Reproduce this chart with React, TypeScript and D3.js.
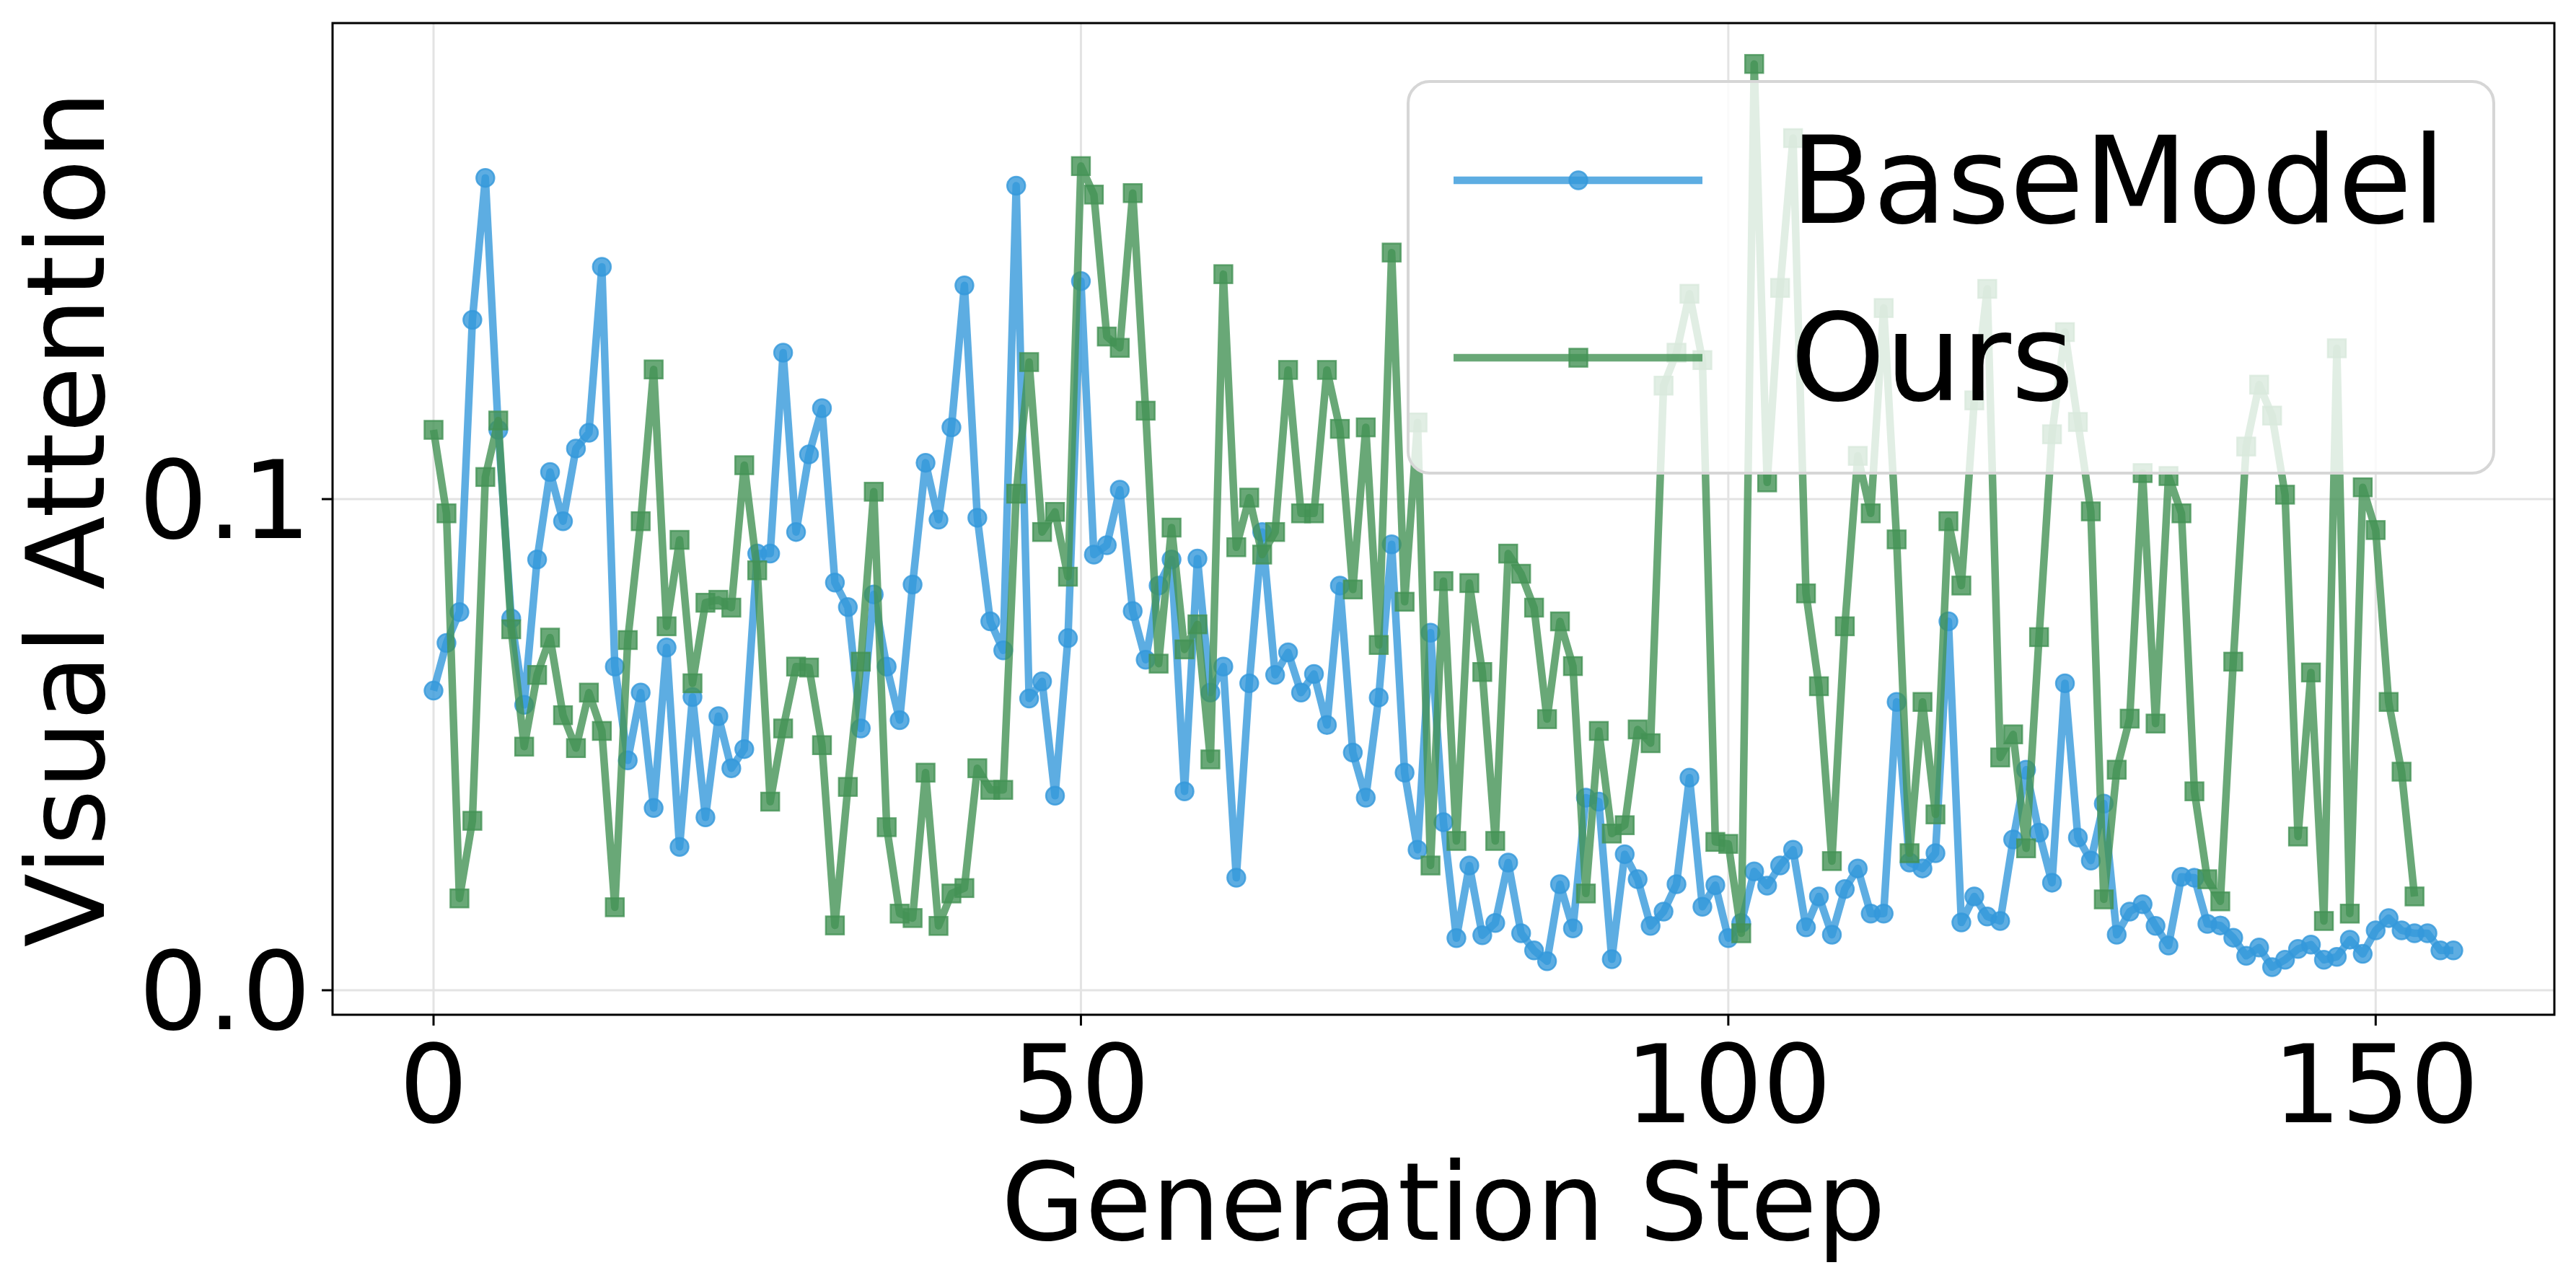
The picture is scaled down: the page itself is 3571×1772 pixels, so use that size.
import React from 'react';
import * as d3 from 'd3';

// Visual attention per generation step
const baseModel = [
  0.0610, 0.0707, 0.0770, 0.1365, 0.1654, 0.1141, 0.0757, 0.0581, 0.0877, 0.1055,
  0.0955, 0.1103, 0.1135, 0.1473, 0.0659, 0.0468, 0.0606, 0.0371, 0.0698, 0.0292,
  0.0597, 0.0352, 0.0558, 0.0452, 0.0491, 0.0889, 0.0889, 0.1298, 0.0933, 0.1091,
  0.1185, 0.0830, 0.0780, 0.0533, 0.0806, 0.0659, 0.0550, 0.0826, 0.1074, 0.0958,
  0.1146, 0.1435, 0.0962, 0.0751, 0.0692, 0.1638, 0.0594, 0.0629, 0.0396, 0.0717,
  0.1444, 0.0887, 0.0906, 0.1019, 0.0772, 0.0673, 0.0824, 0.0877, 0.0405, 0.0879,
  0.0606, 0.0659, 0.0229, 0.0625, 0.0933, 0.0642, 0.0688, 0.0606, 0.0644, 0.0540,
  0.0824, 0.0484, 0.0392, 0.0596, 0.0908, 0.0443, 0.0286, 0.0728, 0.0342, 0.0106,
  0.0254, 0.0112, 0.0137, 0.0260, 0.0116, 0.0081, 0.0059, 0.0216, 0.0126, 0.0392,
  0.0384, 0.0063, 0.0277, 0.0226, 0.0131, 0.0160, 0.0216, 0.0433, 0.0170, 0.0214,
  0.0106, 0.0137, 0.0242, 0.0213, 0.0254, 0.0286, 0.0128, 0.0191, 0.0113, 0.0206,
  0.0248, 0.0156, 0.0156, 0.0587, 0.0260, 0.0248, 0.0279, 0.0751, 0.0138, 0.0191,
  0.0150, 0.0141, 0.0307, 0.0449, 0.0321, 0.0219, 0.0625, 0.0311, 0.0264, 0.0380,
  0.0113, 0.0160, 0.0175, 0.0131, 0.0091, 0.0231, 0.0229, 0.0135, 0.0132, 0.0107,
  0.0070, 0.0087, 0.0047, 0.0062, 0.0084, 0.0093, 0.0062, 0.0068, 0.0103, 0.0074,
  0.0122, 0.0147, 0.0122, 0.0116, 0.0116, 0.0081, 0.0081,
];

const ours = [
  0.1141, 0.0971, 0.0187, 0.0345, 0.1045, 0.1160, 0.0735, 0.0496, 0.0642, 0.0718,
  0.0560, 0.0493, 0.0606, 0.0528, 0.0169, 0.0713, 0.0955, 0.1264, 0.0741, 0.0917,
  0.0625, 0.0789, 0.0795, 0.0779, 0.1069, 0.0855, 0.0384, 0.0533, 0.0659, 0.0657,
  0.0499, 0.0132, 0.0414, 0.0669, 0.1015, 0.0332, 0.0156, 0.0147, 0.0443, 0.0131,
  0.0197, 0.0208, 0.0452, 0.0408, 0.0408, 0.1011, 0.1279, 0.0933, 0.0974, 0.0842,
  0.1678, 0.1620, 0.1331, 0.1308, 0.1623, 0.1180, 0.0665, 0.0942, 0.0694, 0.0745,
  0.0470, 0.1458, 0.0902, 0.1003, 0.0887, 0.0933, 0.1263, 0.0971, 0.0971, 0.1263,
  0.1143, 0.0816, 0.1146, 0.0703, 0.1502, 0.0791, 0.1156, 0.0254, 0.0833, 0.0304,
  0.0829, 0.0648, 0.0304, 0.0889, 0.0848, 0.0779, 0.0552, 0.0751, 0.0660, 0.0197,
  0.0528, 0.0319, 0.0336, 0.0531, 0.0503, 0.1231, 0.1298, 0.1418, 0.1283, 0.0302,
  0.0298, 0.0116, 0.1886, 0.1034, 0.1430, 0.1735, 0.0808, 0.0619, 0.0263, 0.0741,
  0.1088, 0.0971, 0.1389, 0.0918, 0.0279, 0.0587, 0.0358, 0.0955, 0.0824, 0.1201,
  0.1428, 0.0474, 0.0521, 0.0289, 0.0719, 0.1132, 0.1340, 0.1157, 0.0975, 0.0185,
  0.0449, 0.0553, 0.1053, 0.0543, 0.1047, 0.0971, 0.0405, 0.0226, 0.0181, 0.0669,
  0.1107, 0.1233, 0.1170, 0.1009, 0.0313, 0.0647, 0.0141, 0.1307, 0.0156, 0.1024,
  0.0937, 0.0587, 0.0445, 0.0191,
];

const xTicks = [0, 50, 100, 150];
const yTicks = [0.0, 0.1];
const seriesNames = ['BaseModel', 'Ours'];

const W = 3571;
const H = 1772;
const FONT = 'DejaVu Sans, sans-serif';
const BLUE = '#3498db';
const GREEN = '#449255';

export default function App() {
  const left = 461, right = 3541, top = 32, bottom = 1407;

  const x = d3.scaleLinear().domain([-7.8, 163.8]).range([left, right]);
  const y = d3.scaleLinear().domain([-0.00499, 0.19692]).range([bottom, top]);

  const line = d3.line<number>()
    .x((_, i) => x(i))
    .y(d => y(d));

  // legend box
  const lg = { x0: 1952, y0: 113, x1: 3457, y1: 656 };

  return (
    <svg width={W} height={H} style={{ position: 'absolute', left: 0, top: 0, background: '#fff' }}>
      <rect x={0} y={0} width={W} height={H} fill="#fff" />

      {/* grid */}
      <g stroke="#e3e3e3" strokeWidth={3}>
        {xTicks.map(t => (
          <line key={'gx' + t} x1={x(t)} x2={x(t)} y1={top} y2={bottom} />
        ))}
        {yTicks.map(t => (
          <line key={'gy' + t} x1={left} x2={right} y1={y(t)} y2={y(t)} />
        ))}
      </g>

      {/* BaseModel */}
      <g opacity={0.8}>
        <path d={line(baseModel) || ''} fill="none" stroke={BLUE} strokeWidth={10.5} strokeLinejoin="round" />
      </g>
      {baseModel.map((d, i) => (
        <circle key={'b' + i} cx={x(i)} cy={y(d)} r={12.5}
          fill={BLUE} fillOpacity={0.8} stroke={BLUE} strokeOpacity={0.8} strokeWidth={2.5} />
      ))}

      {/* Ours */}
      <g opacity={0.8}>
        <path d={line(ours) || ''} fill="none" stroke={GREEN} strokeWidth={10.5} strokeLinejoin="round" />
      </g>
      {ours.map((d, i) => (
        <rect key={'g' + i} x={x(i) - 12.5} y={y(d) - 12.5} width={25} height={25}
          fill={GREEN} fillOpacity={0.8} stroke={GREEN} strokeOpacity={0.8} strokeWidth={2.5} />
      ))}

      {/* legend */}
      <rect x={lg.x0} y={lg.y0} width={lg.x1 - lg.x0} height={lg.y1 - lg.y0} rx={30} ry={30}
        fill="#fff" fillOpacity={0.8} stroke="#d6d6d6" strokeWidth={4} />
      {seriesNames.map((name, k) => {
        const ly = k === 0 ? 250 : 496;
        const c = k === 0 ? BLUE : GREEN;
        return (
          <g key={name}>
            <line x1={2015} x2={2360} y1={ly} y2={ly} stroke={c} strokeOpacity={0.8} strokeWidth={10.5} />
            {k === 0 ? (
              <circle cx={2188} cy={ly} r={12.5} fill={c} fillOpacity={0.8} stroke={c} strokeOpacity={0.8} strokeWidth={2.5} />
            ) : (
              <rect x={2188 - 12.5} y={ly - 12.5} width={25} height={25} fill={c} fillOpacity={0.8} stroke={c} strokeOpacity={0.8} strokeWidth={2.5} />
            )}
            <text x={2482} y={ly + 59} fontFamily={FONT} fontSize={167} fill="#000">{name}</text>
          </g>
        );
      })}

      {/* spines */}
      <rect x={left} y={top} width={right - left} height={bottom - top} fill="none" stroke="#000" strokeWidth={3} />

      {/* x axis */}
      {xTicks.map(t => (
        <g key={'xt' + t}>
          <line x1={x(t)} x2={x(t)} y1={bottom} y2={bottom + 15} stroke="#000" strokeWidth={3} />
          <text x={x(t)} y={1556} textAnchor="middle" fontFamily={FONT} fontSize={150} fill="#000">{t}</text>
        </g>
      ))}
      <text x={(left + right) / 2} y={1719} textAnchor="middle" fontFamily={FONT} fontSize={150} fill="#000">
        Generation Step
      </text>

      {/* y axis */}
      {yTicks.map(t => (
        <g key={'yt' + t}>
          <line x1={left - 15} x2={left} y1={y(t)} y2={y(t)} stroke="#000" strokeWidth={3} />
          <text x={431} y={y(t) + 54} textAnchor="end" fontFamily={FONT} fontSize={150} fill="#000">{t.toFixed(1)}</text>
        </g>
      ))}
      <text transform={`translate(144,${(top + bottom) / 2}) rotate(-90)`} textAnchor="middle"
        fontFamily={FONT} fontSize={150} fill="#000">
        Visual Attention
      </text>
    </svg>
  );
}
